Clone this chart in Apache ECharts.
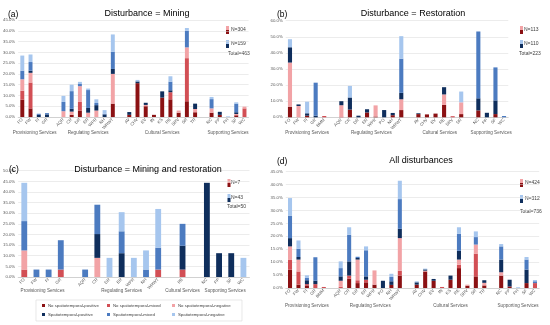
<!DOCTYPE html>
<html><head><meta charset="utf-8">
<script src="https://cdn.jsdelivr.net/npm/echarts@6/dist/echarts.min.js"></script>
<style>html,body{margin:0;padding:0;background:#fff}#c{width:550px;height:325px}</style>
</head><body><div id="c"></div>
<script>
// ---------- series names / colours ----------
const seriesNames = ['No spatiotemporal-positive','No spatiotemporal-mixed','No spatiotemporal-negative',
  'Spatiotemporal-positive','Spatiotemporal-mixed','Spatiotemporal-negative'];
const colors = ['#8B1113','#D24F55','#F2A3A6','#0F2E5C','#4C7BC0','#A6C6EE'];
const groupNames = ['Provisioning Services','Regulating Services','Cultural Services','Supporting Services'];

// ---------- (a) Disturbance = Mining ----------
const catsA = ['FO','FW','FI','GR','','AQR','CR','DR','ER','WPR','NH','WRWT','','AV','CHV','EV','IN','KS','RE','SRV','SR','TR','','NC','PP','PH','SF','WC'];
const aNoPos = [8,4,0,0,null,0,1,3,0,0,0,6.2,null,1,15.7,5,1,9,8.2,2,7.3,2.2,null,2,1,0,0.8,0];
const aNoMix = [4.2,12,0,0,null,0,0,4,0,0,0,0,null,0,0,0,0,0,3.3,0,20,0,null,0,0,0,0,4];
const aNoNeg = [5.3,4.5,0,0,null,2.7,1.5,7.3,2,3,0,13.8,null,0,0,0.6,0,0,0,1,5,1.5,null,2,0,0,0.6,0.8];
const aSPos  = [0,1,1,1.2,null,0,1.3,0,2.2,2.5,1.2,2.3,null,1.3,0.8,1,0,2.9,0.9,0,0,2.5,null,0,1.4,0,0.8,0];
const aSMix  = [4,4,0.5,0.6,null,4.3,8.2,1,8.3,1,0.3,8,null,0,0,0,0,0,4,0,7.7,0,null,4.3,0,0,4,0];
const aSNeg  = [7,3.5,0,0,null,2.8,3,1,0.7,1.7,1.7,8,null,0,0.7,0,0,0,2.5,0,1.3,0,null,1,0,0.3,0.6,0];

// ---------- (b) Disturbance = Restoration ----------
const catsB = ['FO','FW','FI','GR','BMM','','AQR','CR','DR','ER','WPR','PO','NH','WRWT','','AV','CHV','EV','RE','SRV','SR','','NC','PP','SF','WC'];
const bNoPos = [6.6,0,1,0,0,null,0,4.8,0,3,0.5,0,1.3,4.5,null,2,1.8,2.3,7.7,0,2,null,4.3,0,2,0];
const bNoMix = [0,0,0,0,0.8,null,0.5,0,0,0,0,0,0,0,null,0,0,0,0,0.7,0,null,0,0,0,0];
const bNoNeg = [27.4,7,0,0,0,null,7,0,0,0,6.9,0,0,6.7,null,0,0,0,6.5,0,7.3,null,0,0,0,0];
const bSPos  = [9.5,1,1.5,1,0,null,2.5,7.5,1,2,0,4.5,1.4,4,null,0.5,0,0,4.5,0,0,null,7.5,2.8,8.5,0];
const bSMix  = [0,0,0,20.5,0,null,0,0,0,0,0,0,0,21.2,null,0,0,0,0,0,0,null,41.5,0,20.5,0.8];
const bSNeg  = [5,0,7.2,0,0,null,0,7.2,0,0,0,0,0,14,null,0,0,0,0,0,6.7,null,0,0,0,0];

// ---------- (c) Disturbance = Mining and restoration ----------
const catsC = ['FO','FW','FI','GR','','AQR','CR','DR','ER','WPR','NH','WRWT','','RE','','NC','PP','SF','WC'];
const cNoPos = [0,0,0,0,null,0,0,0,0,0,0,0,null,0,null,0,0,0,0];
const cNoMix = [3.5,0,0,3.5,null,0,0,0,0,0,0,3.5,null,3.5,null,0,0,0,0];
const cNoNeg = [9,0,0,0,null,0,9,0,0,0,0,0,null,0,null,0,0,0,0];
const cSPos  = [0,0,0,0,null,0,11.2,0,11.2,0,0,0,null,11.2,null,44.3,11.2,11.2,0];
const cSMix  = [13.8,3.5,3.5,13.8,null,3.5,13.8,0,10.3,0,3.5,10.3,null,10.3,null,0,0,0,0];
const cSNeg  = [18,0,0,0,null,0,0,9,9,9,9,18.2,null,0,null,0,0,0,9];

// ---------- (d) All disturbances ----------
const catsD = ['FO','FW','FI','GR','BMM','','AQR','CR','DR','ER','WPR','PO','NH','WRWT','','AV','CHV','EV','IN','KS','RE','SRV','SR','TR','','NC','PP','PH','SF','WC'];
const dNoPos = [7.1,1.3,1,0,0,null,0,3.6,1.9,2.2,1.3,0,1.2,4.8,null,1.3,6.4,2.8,0,3.2,7.7,0.9,4.5,1,null,4.8,0.6,0,1.9,0];
const dNoMix = [3.9,5.1,0.5,1.5,0.4,null,0.5,1.2,1.1,1,0,0,0,1.9,null,0,0,0,0.4,0,1.3,0,8.8,0,null,0,0,0,0,1.9];
const dNoNeg = [5.1,4.6,0,0,0,null,2.3,0,8,0,5.5,0,0,12.6,null,0,0.3,0,0,0,2,0.4,3.5,1,null,1.3,0,0,0,0];
const dSPos  = [3.2,1,1.5,1.3,0,null,1.7,5.5,0.6,1.3,0,2.8,1.4,3.6,null,0.9,0.5,0.7,0,1.6,3.4,0,0,1,null,4.9,2.6,0,5.2,0];
const dSMix  = [8.7,3.2,0.9,9.1,0,null,3.2,10.3,0.4,10.1,0,0,1.7,11.5,null,0,0,0,0,0,6.6,0,2.9,0,null,5.1,0,0,3.9,0.7];
const dSNeg  = [6.8,3.2,1,0,0,null,2.6,2.9,0.2,1.5,0,0,1.2,7.1,null,0.4,0.3,0,0,0,2.5,0,2.2,0,null,0.9,0,0.3,1,0.5];

// ---------- panel texts ----------
const panelLetters = ['(a)','(b)','(c)','(d)'];
const panelTitles = ['Disturbance = Mining','Disturbance = Restoration','Disturbance = Mining and restoration','All disturbances'];
const nRed = ['N=304','N=113','N=7','N=424'];
const nBlue = ['N=159','N=110','N=43','N=312'];
const totals = ['Total=463','Total=223','Total=50','Total=736'];
const yMax = [45,60,50,45];
const yStep = [5,10,5,5];

// ---------- layout (styles only) ----------
const grids = [
  {left:18, top:20, width:230.6, height:97},
  {left:285.7, top:20.7, width:222.6, height:96.6},
  {left:15.5, top:170.7, width:234, height:106.3},
  {left:285.8, top:171.7, width:253.4, height:116.3}
];
const groupOffset = [13, 13, 11, 15];
const letterPos = [[3,10],[272,10],[4,165.5],[272,157]];
const titlePos = [[142,10],[408,10],[143,165.5],[416,157]];
const legPos = [[226,26,231,40,228,54],[520,26,524,40,519,54],[227.5,179,231,194,227,207],[520,179,525,195,520,212]];

const panels = [
  {cats:catsA, data:[aNoPos,aNoMix,aNoNeg,aSPos,aSMix,aSNeg]},
  {cats:catsB, data:[bNoPos,bNoMix,bNoNeg,bSPos,bSMix,bSNeg]},
  {cats:catsC, data:[cNoPos,cNoMix,cNoNeg,cSPos,cSMix,cSNeg]},
  {cats:catsD, data:[dNoPos,dNoMix,dNoNeg,dSPos,dSMix,dSNeg]}
];

const FONT = 'Liberation Sans, Arial, sans-serif';
const axisGray = '#595959';

function groupAxisData(cats){
  const n = cats.length;
  const arr = new Array(2*n+1).fill('');
  let g = 0, s = -1;
  for (let i=0;i<=n;i++){
    const empty = (i===n) || cats[i]==='';
    if (!empty && s<0) s = i;
    if (empty && s>=0){
      const c2 = s + (i-1); // 2*center
      arr[c2+1] = groupNames[g++];
      s = -1;
    }
  }
  return arr;
}

const xAxis = [], yAxis = [], series = [], title = [], graphic = [];
panels.forEach((p, pi) => {
  xAxis.push({
    type:'category', gridIndex:pi, data:p.cats,
    axisTick:{show:false},
    axisLine:{lineStyle:{color:'#bfbfbf', width:0.6}},
    axisLabel:{interval:0, rotate:45, fontSize:4.3, margin:2, color:axisGray, fontFamily:FONT}
  });
  xAxis.push({
    type:'category', gridIndex:pi, data:groupAxisData(p.cats), boundaryGap:false,
    position:'bottom', offset:groupOffset[pi],
    axisTick:{show:false}, axisLine:{show:false}, splitLine:{show:false},
    axisLabel:{interval:0, fontSize:4.6, margin:0, color:axisGray, fontFamily:FONT, hideOverlap:false}
  });
  yAxis.push({
    type:'value', gridIndex:pi, min:0, max:yMax[pi], interval:yStep[pi],
    axisLine:{show:false}, axisTick:{show:false},
    axisLabel:{fontSize:4.3, margin:3, color:axisGray, fontFamily:FONT, formatter:v => v.toFixed(1)+'%'},
    splitLine:{lineStyle:{color:'#d9d9d9', width:0.5}}
  });
  p.data.forEach((vals, si) => {
    series.push({
      type:'bar', name:seriesNames[si], xAxisIndex:pi*2, yAxisIndex:pi,
      stack:'p'+pi, data:vals, barWidth:'48%',
      itemStyle:{color:colors[si]}, emphasis:{disabled:true}
    });
  });
  title.push({text:panelLetters[pi], left:letterPos[pi][0], top:letterPos[pi][1]-5,
    textStyle:{fontSize:8.5, fontWeight:'normal', color:'#000', fontFamily:FONT}});
  title.push({text:panelTitles[pi], left:titlePos[pi][0], top:titlePos[pi][1]-5.5, textAlign:'center',
    textStyle:{fontSize:9, fontWeight:'normal', color:'#000', fontFamily:FONT}});
  const L = legPos[pi];
  graphic.push({type:'rect', shape:{x:L[0], y:L[1], width:3, height:4}, style:{fill:colors[2]}});
  graphic.push({type:'rect', shape:{x:L[0], y:L[1]+4, width:3, height:4}, style:{fill:colors[0]}});
  graphic.push({type:'text', x:L[2], y:L[1]+4, style:{text:nRed[pi], fontSize:5, fill:'#404040', fontFamily:FONT, verticalAlign:'middle'}});
  graphic.push({type:'rect', shape:{x:L[0], y:L[3], width:3, height:4}, style:{fill:colors[5]}});
  graphic.push({type:'rect', shape:{x:L[0], y:L[3]+4, width:3, height:4}, style:{fill:colors[3]}});
  graphic.push({type:'text', x:L[2], y:L[3]+4, style:{text:nBlue[pi], fontSize:5, fill:'#404040', fontFamily:FONT, verticalAlign:'middle'}});
  graphic.push({type:'text', x:L[4], y:L[5], style:{text:totals[pi], fontSize:5, fill:'#404040', fontFamily:FONT, verticalAlign:'middle'}});
});

// bottom shared legend box
graphic.push({type:'rect', shape:{x:36, y:300, width:206, height:21}, style:{fill:'none', stroke:'#d9d9d9', lineWidth:0.6}});
const legCols = [42,107,172], legRows = [303.5,312.5];
const legend = seriesNames.map((nm, i) => ({
  data:[nm], left:legCols[i%3], top:legRows[Math.floor(i/3)], padding:0,
  itemWidth:3, itemHeight:3, itemGap:0, icon:'rect',
  textStyle:{fontSize:4.3, color:'#404040', fontFamily:FONT, padding:[0,0,0,-2]}
}));

const chart = echarts.init(document.getElementById('c'), null, {renderer:'canvas'});
chart.setOption({
  animation:false,
  grid:grids,
  title:title,
  legend:legend,
  xAxis:xAxis, yAxis:yAxis, series:series,
  graphic:graphic
});
</script></body></html>
